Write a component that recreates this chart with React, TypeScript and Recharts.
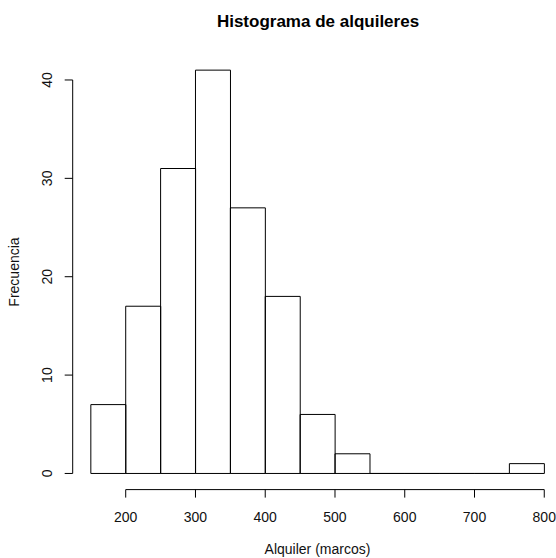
import { BarChart, Bar, XAxis, YAxis, ReferenceLine } from "recharts";

const breaks = [150, 200, 250, 300, 350, 400, 450, 500, 550, 600, 650, 700, 750, 800];
const counts = [7, 17, 31, 41, 27, 18, 6, 2, 0, 0, 0, 0, 1];
const xTicks = [200, 300, 400, 500, 600, 700, 800];
const yTicks = [0, 10, 20, 30, 40];

const data = counts.map((count, i) => ({
  mid: (breaks[i] + breaks[i + 1]) / 2,
  count,
}));

// base R pads each axis range by 4%
const pad = (lo: number, hi: number): [number, number] => [
  lo - (hi - lo) * 0.04,
  hi + (hi - lo) * 0.04,
];
const xDomain = pad(breaks[0], breaks[breaks.length - 1]);
const yDomain = pad(0, Math.max(...counts));

const FONT = "'Liberation Sans', Arial, sans-serif";
const INK = "#000";

// a path rather than a rect so that empty bins still show as a flat line
function HistBar(props: any) {
  const { x, y, width, height } = props;
  return (
    <path
      d={`M${x},${y + height}V${y}H${x + width}V${y + height}Z`}
      fill="none"
      stroke={INK}
      strokeWidth={1}
    />
  );
}

function YTick(props: any) {
  const { x, y, payload } = props;
  return (
    <text
      x={x}
      y={y}
      dy="0.35em"
      transform={`rotate(-90 ${x} ${y})`}
      textAnchor="middle"
      fontSize={14}
      fontFamily={FONT}
      fill="#111"
    >
      {payload.value}
    </text>
  );
}

export default function App() {
  return (
    <div
      style={{
        position: "absolute",
        left: 0,
        top: 0,
        width: 556,
        height: 558,
        overflow: "hidden",
        background: "#fff",
      }}
    >
      <BarChart
        width={580}
        height={558}
        data={data}
        margin={{ top: 54, right: 17.6, bottom: 0, left: 0 }}
        barCategoryGap={0}
        barGap={0}
      >
        <XAxis
          dataKey="mid"
          type="number"
          domain={xDomain}
          ticks={xTicks}
          interval={0}
          allowDataOverflow
          height={68.4}
          tickSize={8}
          tickMargin={14.5}
          axisLine={false}
          tickLine={{ stroke: INK }}
          tick={{ fill: "#111", fontSize: 14, fontFamily: FONT }}
        />
        <YAxis
          type="number"
          domain={yDomain}
          ticks={yTicks}
          interval={0}
          allowDataOverflow
          width={72.7}
          tickSize={8}
          tickMargin={17.2}
          axisLine={false}
          tickLine={{ stroke: INK }}
          tick={<YTick />}
        />
        <Bar dataKey="count" shape={<HistBar />} isAnimationActive={false} />
        <ReferenceLine
          segment={[
            { x: xTicks[0], y: yDomain[0] },
            { x: xTicks[xTicks.length - 1], y: yDomain[0] },
          ]}
          stroke={INK}
          ifOverflow="visible"
        />
        <ReferenceLine
          segment={[
            { x: xDomain[0], y: yTicks[0] },
            { x: xDomain[0], y: yTicks[yTicks.length - 1] },
          ]}
          stroke={INK}
          ifOverflow="visible"
        />
      </BarChart>
      <svg
        width={556}
        height={558}
        style={{ position: "absolute", left: 0, top: 0, pointerEvents: "none" }}
      >
        <text
          x={318}
          y={27}
          textAnchor="middle"
          fontSize={17}
          fontWeight="bold"
          fontFamily={FONT}
          fill="#000"
        >
          Histograma de alquileres
        </text>
        <text
          x={317.5}
          y={554}
          textAnchor="middle"
          fontSize={14}
          fontFamily={FONT}
          fill="#111"
        >
          Alquiler (marcos)
        </text>
        <text
          x={14}
          y={272}
          dy="0.35em"
          transform="rotate(-90 14 272)"
          textAnchor="middle"
          fontSize={14}
          fontFamily={FONT}
          fill="#111"
        >
          Frecuencia
        </text>
      </svg>
    </div>
  );
}
